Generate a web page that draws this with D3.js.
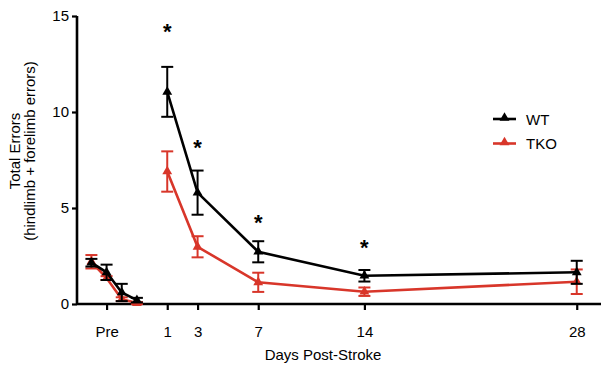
<!DOCTYPE html>
<html><head><meta charset="utf-8">
<script src="https://cdn.jsdelivr.net/npm/d3@7/dist/d3.min.js"></script>
<style>body{margin:0;background:#fff}svg{display:block}text{font-family:"Liberation Sans",Arial,sans-serif;}</style>
</head><body><svg id="c" width="605" height="365"></svg>
<script>
// Data
const days = [-4, -3, -2, -1, 1, 3, 7, 14, 28];
const wtMean = [2.15, 1.65, 0.6, 0.2, 11.05, 5.8, 2.72, 1.47, 1.65];
const wtErr  = [0.2, 0.4, 0.45, 0.12, 1.3, 1.15, 0.55, 0.3, 0.6];
const tkoMean = [2.2, 1.35, 0.25, 0.05, 6.9, 2.98, 1.13, 0.64, 1.16];
const tkoErr  = [0.35, 0.1, 0.1, 0.05, 1.05, 0.55, 0.5, 0.22, 0.64];
const tickDays = [-3, 1, 3, 7, 14, 28];
const tickLabels = ["Pre", "1", "3", "7", "14", "28"];
const yTicks = [0, 5, 10, 15];
const sigDays = [1, 3, 7, 14];
const sigY = [14.3, 8.3, 4.35, 3.05];
const seriesNames = ["WT", "TKO"];
const seriesColors = ["#000000", "#d8362a"];

const svg = d3.select("#c");
const x = d3.scaleLinear().domain([-4.95, 29.6]).range([77, 601]);
const y = d3.scaleLinear().domain([0, 15]).range([304, 16]);

const series = [
  {name: seriesNames[0], color: seriesColors[0], mean: wtMean, err: wtErr},
  {name: seriesNames[1], color: seriesColors[1], mean: tkoMean, err: tkoErr}
];

const FS = 15;
// Axes
const yAxis = d3.axisLeft(y).tickValues(yTicks).tickSize(5).tickPadding(3);
const gy = svg.append("g").attr("transform", "translate(77,0)").call(yAxis);
const xAxis = d3.axisBottom(x).tickValues(tickDays).tickFormat((d,i)=>tickLabels[i]).tickSize(6).tickPadding(16);
const gx = svg.append("g").attr("transform", "translate(0,304)").call(xAxis);
[gx, gy].forEach(g => {
  g.select(".domain").attr("stroke", "#000").attr("stroke-width", 2.6);
  g.selectAll(".tick line").attr("stroke", "#000").attr("stroke-width", 2.2);
  g.selectAll(".tick text").attr("font-size", FS).attr("fill", "#000").attr("font-family", '"Liberation Sans",Arial,sans-serif');
});
gy.select(".domain").attr("d", "M0,304V16");
gx.select(".domain").attr("d", `M77,0H601`);

// Axis labels
svg.append("text").attr("x", 323).attr("y", 360).attr("text-anchor", "middle").attr("font-size", FS).text("Days Post-Stroke");
const yl = svg.append("text").attr("transform", "translate(20,151) rotate(-90)").attr("text-anchor", "middle").attr("font-size", FS);
yl.append("tspan").attr("x", 0).attr("dy", 0).text("Total Errors");
yl.append("tspan").attr("x", 0).attr("dy", 15).text("(hindlimb + forelimb errors)");

const tri = d3.symbol().type(d3.symbolTriangle).size(42);
const line = d3.line().x(d => x(d.d)).y(d => y(d.m));

// draw TKO first then WT on top
[series[1], series[0]].forEach(s => {
  const pts = days.map((d, i) => ({d, m: s.mean[i], e: s.err[i]}));
  const g = svg.append("g");
  pts.forEach(p => {
    const x0 = x(p.d), yt = y(p.m + p.e), yb = y(Math.max(0, p.m - p.e));
    g.append("line").attr("x1", x0).attr("x2", x0).attr("y1", yt).attr("y2", yb).attr("stroke", s.color).attr("stroke-width", 2);
    g.append("line").attr("x1", x0 - 6).attr("x2", x0 + 6).attr("y1", yt).attr("y2", yt).attr("stroke", s.color).attr("stroke-width", 2);
    g.append("line").attr("x1", x0 - 6).attr("x2", x0 + 6).attr("y1", yb).attr("y2", yb).attr("stroke", s.color).attr("stroke-width", 2);
  });
  g.append("path").datum(pts.slice(0, 4)).attr("d", line).attr("fill", "none").attr("stroke", s.color).attr("stroke-width", 2.6);
  g.append("path").datum(pts.slice(4)).attr("d", line).attr("fill", "none").attr("stroke", s.color).attr("stroke-width", 2.6);
  g.selectAll(".m").data(pts).enter().append("path")
    .attr("d", tri).attr("transform", p => `translate(${x(p.d)},${y(p.m)})`).attr("fill", s.color);
});

// significance asterisks
sigDays.forEach((d, i) => {
  svg.append("text").attr("x", x(d)).attr("y", y(sigY[i]) + 10).attr("text-anchor", "middle")
    .attr("font-size", 22).attr("font-weight", "bold").text("*");
});

// Legend
series.forEach((s, i) => {
  const ly = 119 + i * 24.5;
  svg.append("line").attr("x1", 493).attr("x2", 516).attr("y1", ly).attr("y2", ly).attr("stroke", s.color).attr("stroke-width", 2.6);
  svg.append("path").attr("d", tri).attr("transform", `translate(504.5,${ly - 1})`).attr("fill", s.color);
  svg.append("text").attr("x", 526).attr("y", ly + 5.5).attr("font-size", FS).text(s.name);
});
</script></body></html>
